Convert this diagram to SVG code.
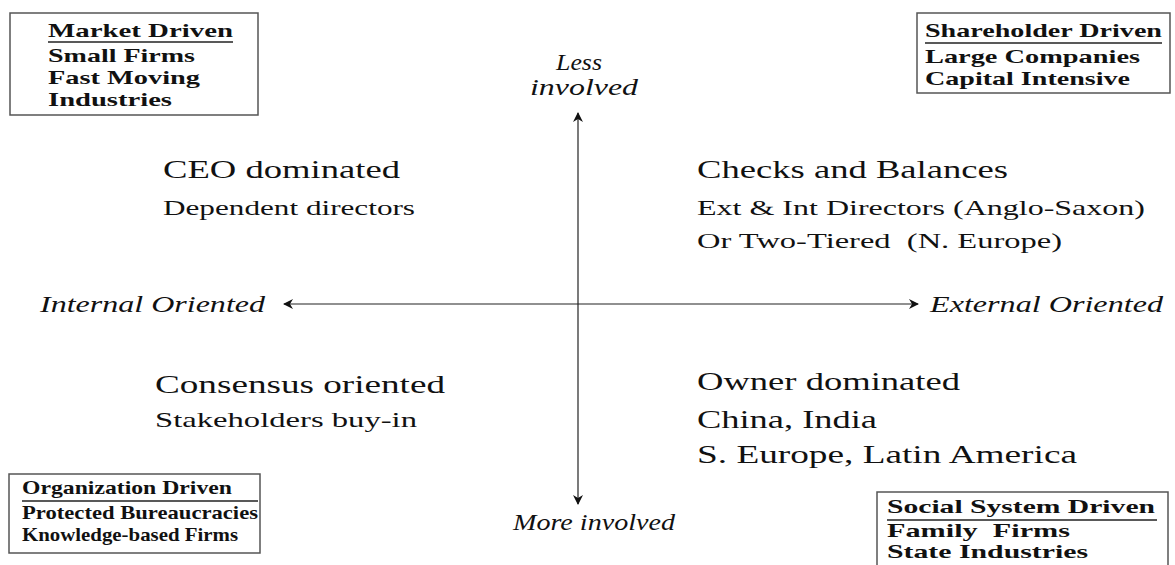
<svg xmlns="http://www.w3.org/2000/svg" width="1175" height="565" viewBox="0 0 1175 565">
  <style>
    .box { fill: #fff; stroke: #555; stroke-width: 1.5; }
    .btxt { font-family: "Liberation Serif", "Times New Roman", serif; font-weight: bold; font-size: 19px; fill: #111; }
    .uline { stroke: #222; stroke-width: 1.5; }
    .big { font-family: "Liberation Serif", "Times New Roman", serif; font-size: 25px; fill: #111; }
    .mid { font-family: "Liberation Serif", "Times New Roman", serif; font-size: 22px; fill: #111; }
    .axis { font-family: "Liberation Serif", "Times New Roman", serif; font-style: italic; font-size: 23px; fill: #111; }
    .conn { stroke: #222; stroke-width: 1.2; fill: none; }
  </style>
  <defs>
    <marker id="head" viewBox="0 0 10 10" refX="9" refY="5" markerWidth="10" markerHeight="10" markerUnits="userSpaceOnUse" orient="auto-start-reverse">
      <path d="M0,0 L10,5 L0,10 L3,5 Z" fill="#111"/>
    </marker>
  </defs>
  <rect width="1175" height="565" fill="#fff"/>

  <!-- axes -->
  <g id="connectors">
    <line class="conn" x1="578" y1="113" x2="578" y2="504" marker-start="url(#head)" marker-end="url(#head)"/>
    <line class="conn" x1="284" y1="304" x2="918" y2="304" marker-start="url(#head)" marker-end="url(#head)"/>
  </g>

  <!-- axis labels -->
  <g id="label-less">
    <text class="axis" x="556" y="70" textLength="46" lengthAdjust="spacingAndGlyphs">Less</text>
    <text class="axis" x="530" y="95" textLength="108" lengthAdjust="spacingAndGlyphs">involved</text>
  </g>
  <g id="label-more">
    <text class="axis" x="513" y="530" textLength="162" lengthAdjust="spacingAndGlyphs">More involved</text>
  </g>
  <g id="label-internal">
    <text class="axis" x="40" y="312" textLength="225" lengthAdjust="spacingAndGlyphs">Internal Oriented</text>
  </g>
  <g id="label-external">
    <text class="axis" x="930" y="312" textLength="233" lengthAdjust="spacingAndGlyphs">External Oriented</text>
  </g>

  <!-- quadrants -->
  <g id="q-ceo">
    <text class="big" x="163" y="178" textLength="237" lengthAdjust="spacingAndGlyphs">CEO dominated</text>
    <text class="mid" x="163" y="215" textLength="252" lengthAdjust="spacingAndGlyphs">Dependent directors</text>
  </g>
  <g id="q-checks">
    <text class="big" x="697" y="178" textLength="311" lengthAdjust="spacingAndGlyphs">Checks and Balances</text>
    <text class="mid" x="697" y="215" textLength="448" lengthAdjust="spacingAndGlyphs">Ext &amp; Int Directors (Anglo-Saxon)</text>
    <text class="mid" x="697" y="248" textLength="365" lengthAdjust="spacingAndGlyphs" xml:space="preserve">Or Two-Tiered  (N. Europe)</text>
  </g>
  <g id="q-consensus">
    <text class="big" x="155" y="393" textLength="290" lengthAdjust="spacingAndGlyphs">Consensus oriented</text>
    <text class="mid" x="155" y="427" textLength="262" lengthAdjust="spacingAndGlyphs">Stakeholders buy-in</text>
  </g>
  <g id="q-owner">
    <text class="big" x="697" y="390" textLength="263" lengthAdjust="spacingAndGlyphs">Owner dominated</text>
    <text class="big" x="697" y="428" textLength="180" lengthAdjust="spacingAndGlyphs">China, India</text>
    <text class="big" x="697" y="463" textLength="380" lengthAdjust="spacingAndGlyphs">S. Europe, Latin America</text>
  </g>

  <!-- corner boxes -->
  <g id="box-market">
    <rect class="box" x="10" y="13" width="248" height="102"/>
    <text class="btxt" x="48" y="37" textLength="185" lengthAdjust="spacingAndGlyphs">Market Driven</text>
    <line class="uline" x1="48" y1="42" x2="233" y2="42"/>
    <text class="btxt" x="48" y="62" textLength="147" lengthAdjust="spacingAndGlyphs">Small Firms</text>
    <text class="btxt" x="48" y="84" textLength="152" lengthAdjust="spacingAndGlyphs">Fast Moving</text>
    <text class="btxt" x="48" y="106" textLength="124" lengthAdjust="spacingAndGlyphs">Industries</text>
  </g>
  <g id="box-shareholder">
    <rect class="box" x="917" y="13" width="253" height="80"/>
    <text class="btxt" x="925" y="37" textLength="237" lengthAdjust="spacingAndGlyphs">Shareholder Driven</text>
    <line class="uline" x1="925" y1="43" x2="1162" y2="43"/>
    <text class="btxt" x="925" y="63" textLength="215" lengthAdjust="spacingAndGlyphs">Large Companies</text>
    <text class="btxt" x="925" y="85" textLength="205" lengthAdjust="spacingAndGlyphs">Capital Intensive</text>
  </g>
  <g id="box-organization">
    <rect class="box" x="9" y="474" width="251" height="79"/>
    <text class="btxt" x="22" y="494" textLength="210" lengthAdjust="spacingAndGlyphs">Organization Driven</text>
    <line class="uline" x1="22" y1="501" x2="258" y2="501"/>
    <text class="btxt" x="22" y="519" textLength="236" lengthAdjust="spacingAndGlyphs">Protected Bureaucracies</text>
    <text class="btxt" x="22" y="541" textLength="216" lengthAdjust="spacingAndGlyphs">Knowledge-based Firms</text>
  </g>
  <g id="box-social">
    <rect class="box" x="877" y="492" width="291" height="80"/>
    <text class="btxt" x="887" y="513" textLength="268" lengthAdjust="spacingAndGlyphs">Social System Driven</text>
    <line class="uline" x1="887" y1="520" x2="1157" y2="520"/>
    <text class="btxt" x="887" y="537" textLength="183" lengthAdjust="spacingAndGlyphs" xml:space="preserve">Family  Firms</text>
    <text class="btxt" x="887" y="558" textLength="201" lengthAdjust="spacingAndGlyphs">State Industries</text>
  </g>
</svg>
